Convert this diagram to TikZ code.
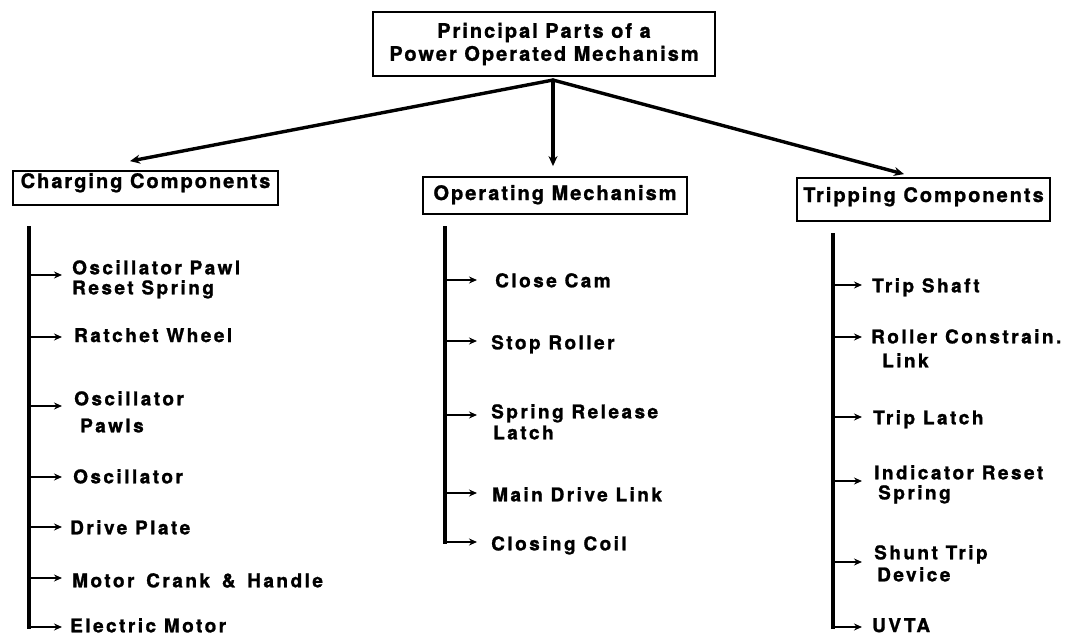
\documentclass[tikz,border=0pt]{standalone}
\usepackage{fontspec}
\usetikzlibrary{arrows.meta}
\newfontfamily\dfont{texgyreheros-bold}[Extension=.otf, LetterSpace=10, FakeBold=1.2]
\newfontfamily\ifnt{texgyreheros-bold}[Extension=.otf, LetterSpace=13, FakeBold=1.2]
\tikzset{
  hdrbox/.style={draw, line width=1.8pt, inner xsep=0pt, inner ysep=3pt, align=center,
    font=\fontsize{20}{23}\selectfont\dfont},
  itemtxt/.style={anchor=north west, inner sep=0pt, align=left,
    font=\fontsize{19}{20}\selectfont\ifnt},
  trunk/.style={line width=3.4pt, line cap=rect},
  branch/.style={line width=2.4pt, -{Stealth[length=8pt,width=7pt]}},
  mainarrow/.style={line width=3.4pt, line cap=round, -{Stealth[length=10pt,width=9pt]}}
}
\begin{document}
\begin{tikzpicture}[x=1pt,y=-1pt]
\useasboundingbox (0,0) rectangle (1066,637);
\fill[white] (0,0) rectangle (1066,637);

% top box
\node[hdrbox, minimum width=342pt, inner ysep=11pt] (top) at (544,44)
  {Principal Parts of a\\Power Operated Mechanism};

% header boxes
\node[hdrbox, minimum width=265pt, text height=14pt, text depth=14pt] (chg) at (145.5,188) {Charging Components};
\node[hdrbox, minimum width=264pt, text height=20pt, text depth=11pt] (opm) at (555,195.5) {Operating Mechanism};
\node[hdrbox, minimum width=253pt, text height=21pt, text depth=16pt] (trp) at (923.5,199.5) {Tripping Components};

\coordinate (apex) at ([xshift=9pt,yshift=-3pt]top.south);
\draw[mainarrow] (apex) -- ([xshift=-15.5pt,yshift=9pt]chg.north);
\draw[mainarrow] (apex) -- ([xshift=-2pt,yshift=10pt]opm.north);
\draw[mainarrow] (apex) -- ([xshift=-19.5pt,yshift=3pt]trp.north);

% ---------- left column ----------
\coordinate (Lt) at (29,228);
\coordinate (Lb) at (29,627);
\coordinate (la1) at (62,275);
\coordinate (la2) at (62,337);
\coordinate (la3) at (62,406);
\coordinate (la4) at (62,477);
\coordinate (la5) at (62,527);
\coordinate (la6) at (62,578);
\coordinate (la7) at (62,627);
\draw[trunk] (Lt) -- (Lb);
\foreach \i in {1,...,6} { \draw[branch] (Lt |- la\i) -- (la\i); }
\draw[branch] (Lb) -- (la7);

\node[itemtxt] (li1) at (72,260) {Oscillator Pawl\\Reset Spring};
\node[itemtxt] (li2) at (74,328) {Ratchet Wheel};
\node[itemtxt] (li3) at (74,391) {Oscillator\\[7pt]\hspace*{6pt}Pawls};
\node[itemtxt] (li4) at (73,469) {Oscillator};
\node[itemtxt] (li5) at (70,520) {Drive Plate};
\node[itemtxt] (li6) at (72,573) {Motor\hspace{4pt} Crank\hspace{4pt} \&\hspace{4pt} Handle};
\node[itemtxt] (li7) at (70,618) {Electric Motor};

% ---------- middle column ----------
\coordinate (Mt) at (445,228);
\coordinate (Mb) at (445,542);
\coordinate (ma1) at (477,280);
\coordinate (ma2) at (477,341);
\coordinate (ma3) at (477,415);
\coordinate (ma4) at (477,493);
\coordinate (ma5) at (477,542);
\draw[trunk] (Mt) -- (Mb);
\foreach \i in {1,...,4} { \draw[branch] (Mt |- ma\i) -- (ma\i); }
\draw[branch] (Mb) -- (ma5);

\node[itemtxt] (mi1) at (495,273) {Close Cam};
\node[itemtxt] (mi2) at (491,335) {Stop Roller};
\node[itemtxt] (mi3) at (491,404) {Spring Release\\[1pt]\hspace*{2pt}Latch};
\node[itemtxt] (mi4) at (492,487) {Main Drive Link};
\node[itemtxt] (mi5) at (491,536) {Closing Coil};

% ---------- right column ----------
\coordinate (Rt) at (833,235);
\coordinate (Rb) at (833,627);
\coordinate (ra1) at (862,285);
\coordinate (ra2) at (862,337);
\coordinate (ra3) at (862,417);
\coordinate (ra4) at (862,481);
\coordinate (ra5) at (862,562);
\coordinate (ra6) at (862,627);
\draw[trunk] (Rt) -- (Rb);
\foreach \i in {1,...,5} { \draw[branch] (Rt |- ra\i) -- (ra\i); }
\draw[branch] (Rb) -- (ra6);

\node[itemtxt] (ri1) at (872,278) {Trip Shaft};
\node[itemtxt] (ri2) at (871,329) {Roller Constrain.\\[4pt]\hspace*{11pt}Link};
\node[itemtxt] (ri3) at (873,410) {Trip Latch};
\node[itemtxt] (ri4) at (874,465) {Indicator Reset\\\hspace*{4pt}Spring};
\node[itemtxt] (ri5) at (874,545) {Shunt Trip\\[2pt]\hspace*{3pt}Device};
\node[itemtxt] (ri6) at (872,618) {UVTA};
\end{tikzpicture}
\end{document}
